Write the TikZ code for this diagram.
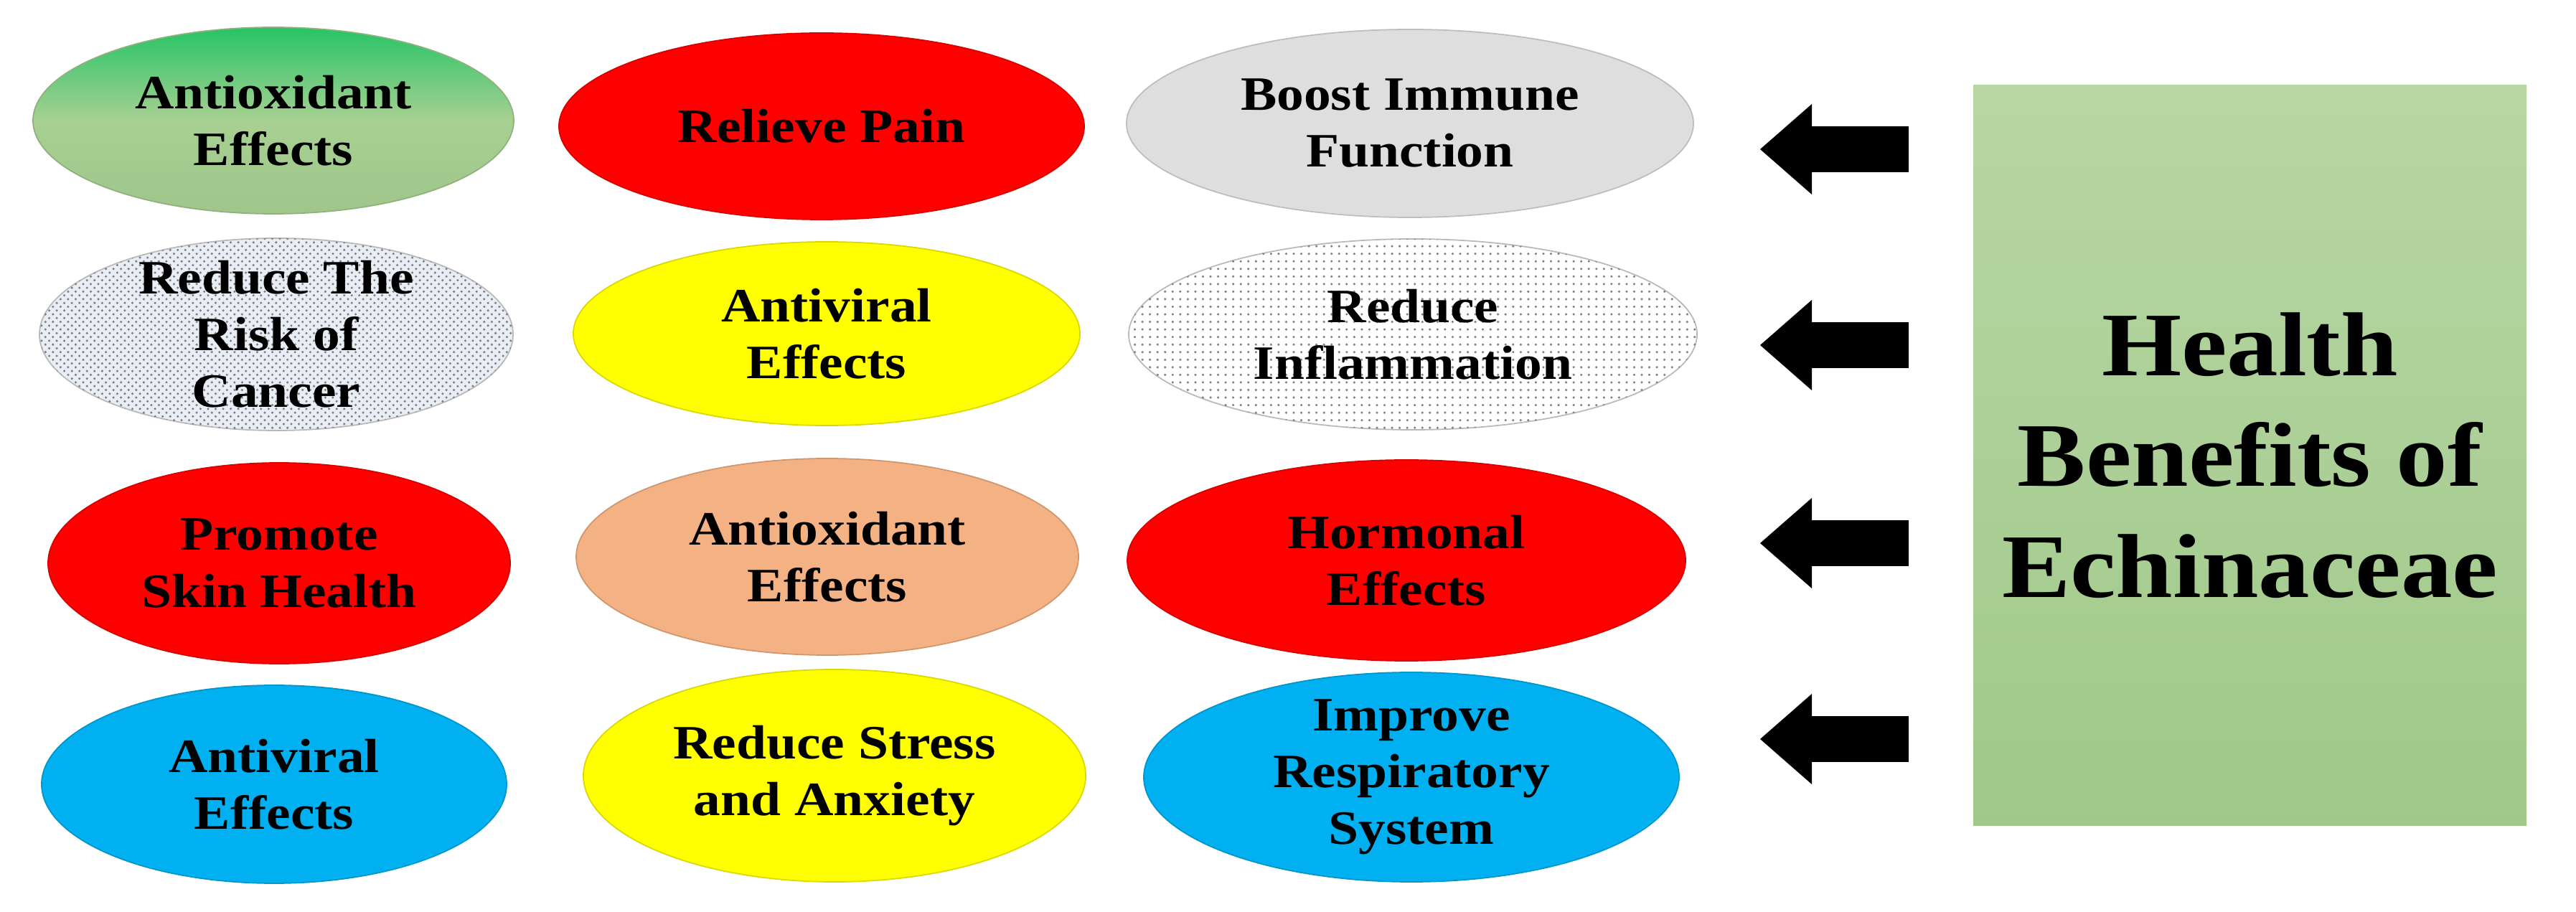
\documentclass[tikz,border=0pt]{standalone}
\usepackage{fontspec}
\setmainfont{Liberation Serif}[FakeStretch=1.13]
\usetikzlibrary{shapes.geometric,arrows.meta,patterns}

\definecolor{painred}{RGB}{255,0,0}
\definecolor{immunegray}{RGB}{222,222,222}
\definecolor{cancerbg}{RGB}{233,237,246}
\definecolor{virusyellow}{RGB}{255,255,0}
\definecolor{peach}{RGB}{244,177,131}
\definecolor{skyblue}{RGB}{0,176,240}
\definecolor{leaftop}{RGB}{38,196,102}
\definecolor{leafpale}{RGB}{168,208,146}
\definecolor{boxtop}{RGB}{183,214,164}
\definecolor{boxbottom}{RGB}{160,201,137}

\begin{document}
\begin{tikzpicture}[
	benefit/.style={ ellipse, draw=#1!85!black, line width=0.5pt, fill=#1, inner sep=0pt, inner ysep=-8pt, align=center, font=\fontsize{19}{22.5}\selectfont\bfseries },
	dotsfill/.style={ draw=gray!55, postaction={pattern=#1, pattern color=black!50} },
	titlebox/.style={ rectangle, top color=boxtop, bottom color=boxbottom, minimum width=7.71cm, minimum height=10.31cm, align=center, font=\fontsize{36}{44}\selectfont\bfseries },
	bigarrow/.style={ line width=6.4mm, -{Triangle[length=7.2mm, width=12.6mm, line width=0pt]} }
]

\useasboundingbox (0,0) rectangle (35.9,-12.71);

\node at (3.81,-1.68) (antioxA) [benefit=leafpale, top color=leaftop, bottom color=leafpale!95!black, middle color=leafpale, minimum width=6.70cm, minimum height=2.60cm] {Antioxidant\\Effects};
\node at (11.45,-1.76) (pain) [benefit=painred, minimum width=7.32cm, minimum height=2.60cm] {Relieve Pain};
\node at (19.65,-1.72) (immune) [benefit=immunegray, minimum width=7.90cm, minimum height=2.62cm] {Boost Immune\\Function};

\node at (3.85,-4.66) (cancer) [benefit=cancerbg, dotsfill=crosshatch dots, minimum width=6.60cm, minimum height=2.68cm] {Reduce The\\Risk of\\Cancer};
\node at (11.52,-4.65) (antivirA) [benefit=virusyellow, minimum width=7.06cm, minimum height=2.56cm] {Antiviral\\Effects};
\node at (19.69,-4.66) (inflam) [benefit=white, dotsfill=dots, minimum width=7.92cm, minimum height=2.66cm] {Reduce\\Inflammation};

\node at (3.89,-7.85) (skin) [benefit=painred, minimum width=6.44cm, minimum height=2.80cm] {Promote\\Skin Health};
\node at (11.53,-7.76) (antioxB) [benefit=peach, minimum width=7.00cm, minimum height=2.74cm] {Antioxidant\\Effects};
\node at (19.60,-7.81) (hormone) [benefit=painred, minimum width=7.78cm, minimum height=2.80cm] {Hormonal\\Effects};

\node at (3.82,-10.93) (antivirB) [benefit=skyblue, minimum width=6.48cm, minimum height=2.76cm] {Antiviral\\Effects};
\node at (11.63,-10.81) (stress) [benefit=virusyellow, minimum width=7.00cm, minimum height=2.96cm] {Reduce Stress\\and Anxiety};
\node at (19.67,-10.83) (breath) [benefit=skyblue, minimum width=7.46cm, minimum height=2.92cm] {Improve\\Respiratory\\System};

\node at (31.355,-6.345) (echinacea) [titlebox] {Health\\Benefits of\\Echinaceae};

\foreach \y [count=\i] in {2.08,4.81,7.57,10.30} {
  \coordinate (tail\i) at (26.60,-\y);
  \coordinate (tip\i) at (24.53,-\y);
  \draw[bigarrow] (tail\i) -- (tip\i);
}

\end{tikzpicture}
\end{document}
